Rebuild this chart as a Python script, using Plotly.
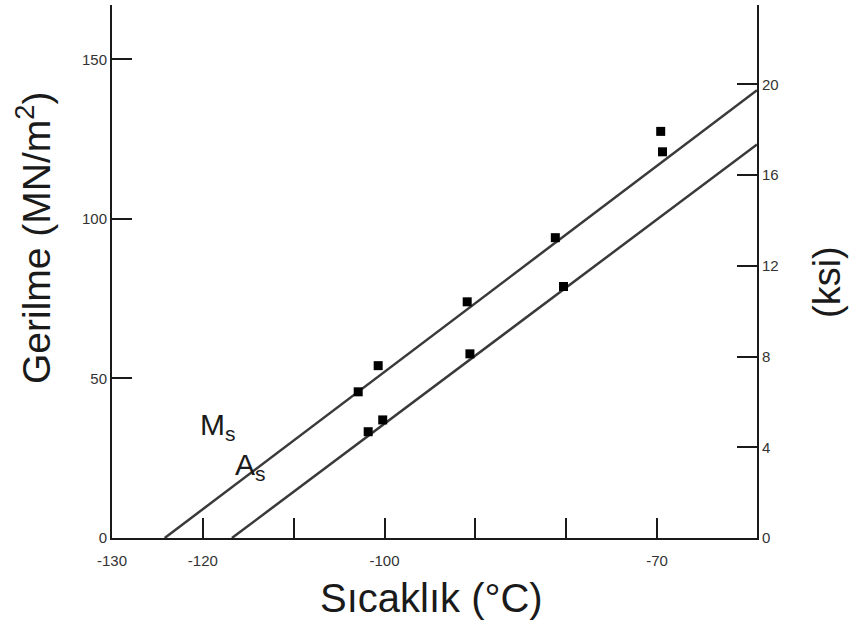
import plotly.graph_objects as go

# Data
ms_x = [-102.9, -100.7, -90.9, -81.2, -69.4, -69.6]
ms_y = [45.8, 54.0, 74.0, 94.1, 121.0, 127.4]
as_x = [-101.8, -100.2, -90.6, -80.3]
as_y = [33.3, 37.0, 57.7, 78.8]

ms_line_x = [-124.2, -59.0]
ms_line_y = [0.0, 140.3]
as_line_x = [-116.8, -59.0]
as_line_y = [0.0, 123.3]

x_tickvals = [-130, -120, -110, -100, -90, -80, -70]
x_ticktext = ["-130", "-120", "", "-100", "", "", "-70"]
y_tickvals = [0, 50, 100, 150]
ksi_tickvals = [0, 4, 8, 12, 16, 20]

INK = "#1a1a1a"
FONT = "Liberation Sans"

fig = go.Figure()
fig.add_trace(go.Scatter(x=ms_line_x, y=ms_line_y, mode="lines",
                         line=dict(color="#3a3a3a", width=2.5), showlegend=False))
fig.add_trace(go.Scatter(x=as_line_x, y=as_line_y, mode="lines",
                         line=dict(color="#3a3a3a", width=2.5), showlegend=False))
fig.add_trace(go.Scatter(x=ms_x, y=ms_y, mode="markers",
                         marker=dict(symbol="square", size=9, color="black"),
                         showlegend=False))
fig.add_trace(go.Scatter(x=as_x, y=as_y, mode="markers",
                         marker=dict(symbol="square", size=9, color="black"),
                         showlegend=False))
# invisible trace to activate the right axis
fig.add_trace(go.Scatter(x=[-130], y=[0], yaxis="y2", mode="markers",
                         marker=dict(opacity=0), showlegend=False, hoverinfo="skip"))

fig.add_annotation(x=-118.3, y=35.0, text="M<sub>s</sub>", showarrow=False,
                   font=dict(family=FONT, size=30, color=INK))
fig.add_annotation(x=-114.8, y=22.3, text="A<sub>s</sub>", showarrow=False,
                   font=dict(family=FONT, size=30, color=INK))

# Axis titles placed to match the reference
fig.add_annotation(xref="paper", yref="paper", x=0.5, y=0, yshift=-60,
                   xanchor="center", yanchor="middle", xshift=-3,
                   text="Sıcaklık (°C)", showarrow=False,
                   font=dict(family=FONT, size=40, color=INK))
fig.add_annotation(xref="paper", yref="paper", x=0, y=(538 - 238) / 533,
                   xanchor="center", yanchor="middle", xshift=-79,
                   text="Gerilme (MN/m<sup>2</sup>)", textangle=-90, showarrow=False,
                   font=dict(family=FONT, size=39, color=INK))
fig.add_annotation(xref="paper", yref="paper", x=1, y=(538 - 282) / 533,
                   xanchor="center", yanchor="middle", xshift=70,
                   text="(ksi)", textangle=-90, showarrow=False,
                   font=dict(family=FONT, size=38, color=INK))

fig.update_layout(
    width=849, height=622,
    margin=dict(l=112, r=92, t=5, b=84),
    paper_bgcolor="white", plot_bgcolor="white",
    font=dict(family=FONT, color=INK),
    xaxis=dict(range=[-130, -59], tickvals=x_tickvals, ticktext=x_ticktext,
               ticks="inside", ticklen=20, tickwidth=2, tickcolor=INK,
               showline=True, linecolor=INK, linewidth=2, showgrid=False,
               zeroline=False, tickfont=dict(size=15, color="#333"),
               ticklabelstandoff=8),
    yaxis=dict(range=[0, 167], tickvals=y_tickvals,
               ticks="inside", ticklen=20, tickwidth=2, tickcolor=INK,
               showline=True, linecolor=INK, linewidth=2, showgrid=False,
               zeroline=False, tickfont=dict(size=15, color="#333")),
    yaxis2=dict(range=[0, 23.5], overlaying="y", side="right", tickvals=ksi_tickvals,
                ticks="inside", ticklen=20, tickwidth=2, tickcolor=INK,
                showline=True, linecolor=INK, linewidth=2, showgrid=False,
                zeroline=False, tickfont=dict(size=15, color="#333")),
)

fig.write_html("out.html")
